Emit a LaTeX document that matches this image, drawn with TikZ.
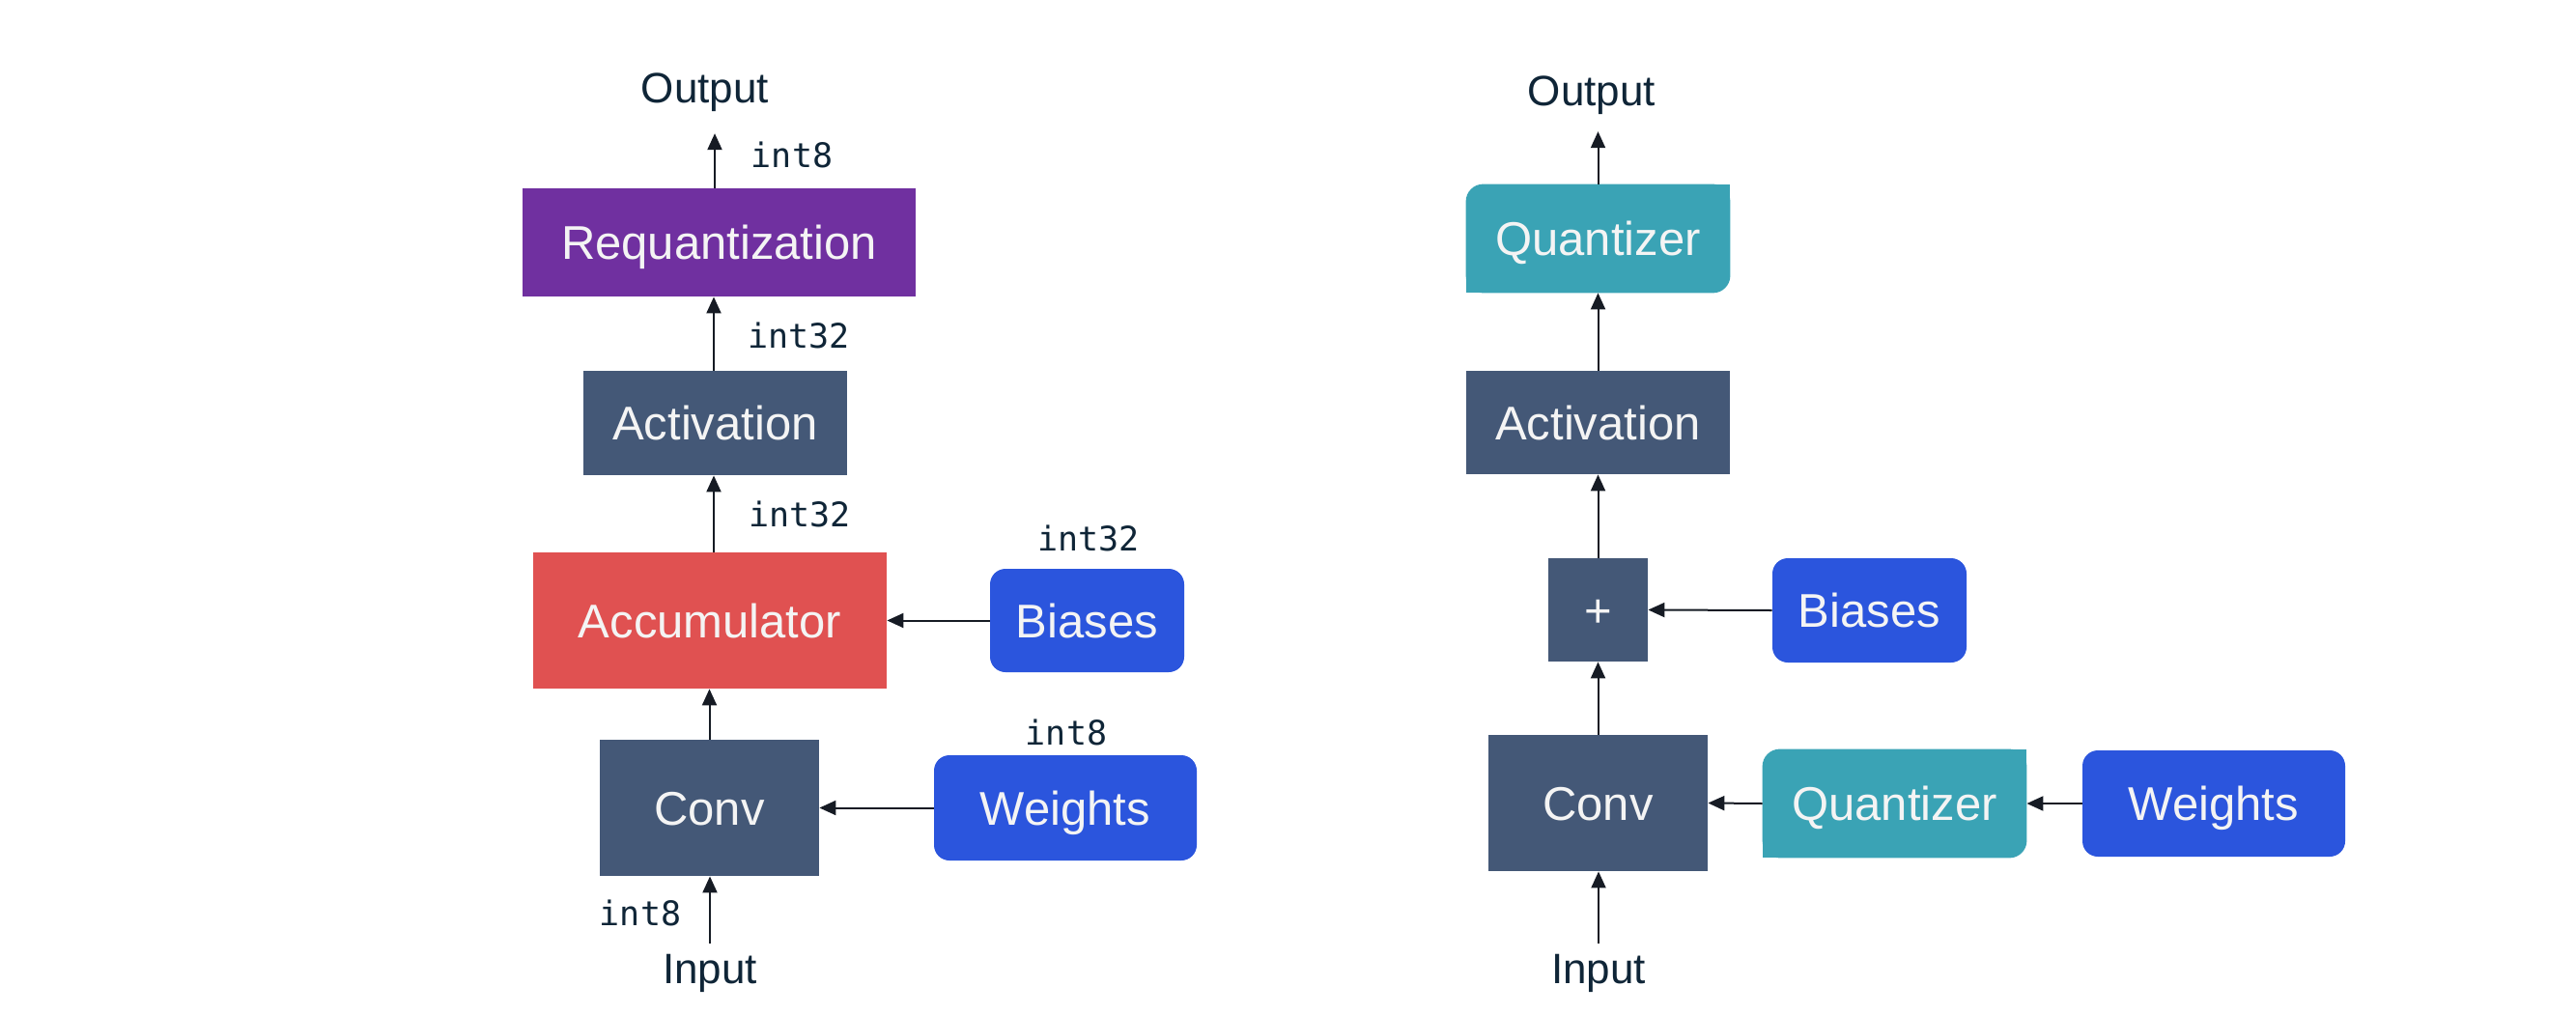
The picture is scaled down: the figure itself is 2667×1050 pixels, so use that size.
\documentclass[tikz,border=0pt]{standalone}
\usepackage{fontspec}
\setmainfont{Liberation Sans}
\newfontfamily\labelmono{DejaVu Sans Mono}
\usetikzlibrary{arrows.meta,backgrounds}
\definecolor{cpurple}{HTML}{7030A0}
\definecolor{cslate}{HTML}{445877}
\definecolor{cred}{HTML}{E05151}
\definecolor{cblue}{HTML}{2B55DD}
\definecolor{cteal}{HTML}{3AA3B5}
\definecolor{ctext}{HTML}{0F2537}
\definecolor{cboxtext}{HTML}{F4F4F4}
\definecolor{carrow}{HTML}{161B24}
\begin{document}
\begin{tikzpicture}[x=0.5pt,y=-0.5pt,
  blk/.style={rectangle, inner sep=0pt, text=cboxtext, font=\fontsize{24.5}{28}\selectfont, text height=17.5pt, text depth=0pt},
  rblk/.style={blk, rounded corners=8pt},
  iotext/.style={inner sep=0pt, text=ctext, font=\fontsize{22}{26}\selectfont, text height=15.75pt, text depth=0pt},
  dtype/.style={inner sep=0pt, text=ctext, font=\labelmono\fontsize{17.5}{20}\selectfont},
  arr/.style={draw=carrow, line width=1pt, -{Triangle[length=8.5pt,width=7.5pt]}}]
\useasboundingbox (0,0) rectangle (2667,1050);

% ---------------- left diagram ----------------
\node[iotext] (outL) at (730,91) {Output};
\node[blk, fill=cpurple, minimum width=203.5pt, minimum height=56pt] (reqL) at (744.5,251) {Requantization};
\node[blk, fill=cslate, minimum width=136.5pt, minimum height=54pt] (actL) at (740.5,438) {Activation};
\node[blk, fill=cred, minimum width=183pt, minimum height=70.5pt] (accL) at (735,642.5) {Accumulator};
\node[rblk, fill=cblue, minimum width=100.5pt, minimum height=53.5pt] (biasL) at (1125.5,642.5) {Biases};
\node[blk, fill=cslate, minimum width=113.5pt, minimum height=70.5pt] (convL) at (734.5,836.5) {Conv};
\node[rblk, fill=cblue, minimum width=136pt, minimum height=54.5pt] (wL) at (1103,836.5) {Weights};
\node[iotext] (inL) at (735,1003) {Input};

\node[dtype] (t1) at (820,160) {int8};
\node[dtype] (t2) at (827,347) {int32};
\node[dtype] (t3) at (828,532) {int32};
\node[dtype] (t4) at (1127,557) {int32};
\node[dtype] (t5) at (1104,758) {int8};
\node[dtype] (t6) at (663,945) {int8};

\draw[arr, shorten >=15.5pt] (reqL.north -| 740,0) -- (outL.south -| 740,0);
\draw[arr] (actL.north -| 739,0) -- (reqL.south -| 739,0);
\draw[arr] (accL.north -| 739,0) -- (actL.south -| 739,0);
\draw[arr] (biasL.west) -- (accL.east);
\draw[arr] (convL.north) -- (accL.south -| convL.north);
\draw[arr] (wL.west) -- (convL.east |- wL.west);
\draw[arr, shorten <=5pt] (inL.north) -- (convL.south -| inL.north);

% ---------------- right diagram ----------------
\node[iotext] (outR) at (1648,94) {Output};
\node[blk, minimum width=136.5pt, minimum height=56pt] (qR) at (1654.5,247) {Quantizer};
\node[blk, fill=cslate, minimum width=136.5pt, minimum height=53.5pt] (actR) at (1654.5,437.5) {Activation};
\node[blk, fill=cslate, minimum width=51.5pt, minimum height=53.5pt] (plusR) at (1654.5,631.5) {+};
\node[rblk, fill=cblue, minimum width=100.5pt, minimum height=54pt] (biasR) at (1935.5,632) {Biases};
\node[blk, fill=cslate, minimum width=113.5pt, minimum height=70.5pt] (convR) at (1654.5,831.5) {Conv};
\node[blk, minimum width=136.5pt, minimum height=56pt] (qwR) at (1961.5,832) {Quantizer};
\node[rblk, fill=cblue, minimum width=136pt, minimum height=55pt] (wR) at (2292,832) {Weights};
\node[iotext] (inR) at (1655,1003) {Input};

\begin{scope}[on background layer]
  \foreach \q in {qR,qwR}{
    \fill[cteal, rounded corners=9pt] (\q.south west) rectangle (\q.north east);
    \fill[cteal] (\q.north) rectangle (\q.east);
    \fill[cteal] (\q.west) rectangle (\q.south);
  }
\end{scope}

\draw[arr, shorten >=13pt] (qR.north) -- (outR.south -| qR.north);
\draw[arr] (actR.north) -- (qR.south);
\draw[arr] (plusR.north) -- (actR.south);
\draw[arr] (biasR.west) -- (plusR.east);
\draw[arr] (convR.north) -- (plusR.south);
\draw[arr] (qwR.west) -- (convR.east);
\draw[arr] (wR.west) -- (qwR.east);
\draw[arr, shorten <=5pt] (inR.north) -- (convR.south -| inR.north);
\end{tikzpicture}
\end{document}
